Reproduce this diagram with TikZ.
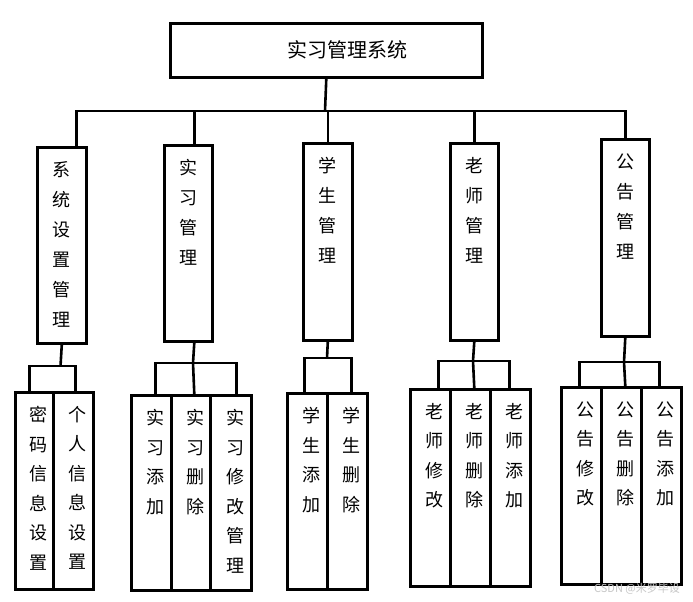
\documentclass[tikz,border=0pt]{standalone}
\usepackage{fontspec}
\newfontfamily\cjk{Noto Sans CJK SC}
\usetikzlibrary{positioning}
\newcommand{\vcol}[4]{\parbox[t][#1][t]{#2}{\centering\leftskip=#3 plus 1fil\vspace*{14pt}#4}}
\tikzset{
  frame/.style={draw,line width=2.6pt,inner sep=0pt,anchor=north west},
  head/.style={frame,minimum width=312,minimum height=54,font=\cjk\fontsize{20}{24}\selectfont},
  module/.style={frame,font=\cjk\fontsize{18}{30}\selectfont},
  leaf/.style={frame,font=\cjk\fontsize{18}{29.5}\selectfont},
  link/.style={line width=2.6pt}
}
\begin{document}
\begin{tikzpicture}[x=1pt,y=-1pt]
\useasboundingbox[fill=white] (0,0) rectangle (693,602);
\node[head] (sys) at (169,22){\hspace*{42pt}实习管理系统};
\coordinate (bus) at (325,111);
\node[module] (m1) at (36,146){\vcol{196pt}{49pt}{0pt}{系\\统\\设\\置\\管\\理}};
\node[module] (m2) at (163,144){\vcol{196pt}{48pt}{0pt}{实\\习\\管\\理}};
\node[module] (m3) at (302,142){\vcol{197pt}{49pt}{0pt}{学\\生\\管\\理}};
\node[module] (m4) at (449,142){\vcol{197pt}{48pt}{0pt}{老\\师\\管\\理}};
\node[module] (m5) at (600,138){\vcol{197pt}{48pt}{0pt}{公\\告\\管\\理}};
\draw[link] (sys.south) -- (bus);
\draw[link] ([xshift=14.5pt]m1.north) |- (bus) -| (m5.north);
\draw[link] ([xshift=6pt]m2.north) -- ([xshift=6pt]m2.north |- bus);
\draw[link] (m3.north) -- (m3.north |- bus);
\draw[link] (m4.north) -- (m4.north |- bus);
\node[leaf] (l11) at (14,391){\vcol{197pt}{38pt}{9pt}{密\\码\\信\\息\\设\\置}};
\node[leaf] (l12) at (52,391){\vcol{197pt}{40pt}{9pt}{个\\人\\信\\息\\设\\置}};
\node[leaf] (l21) at (130,394){\vcol{195pt}{40pt}{9pt}{实\\习\\添\\加}};
\node[leaf] (l22) at (170,394){\vcol{195pt}{39pt}{9pt}{实\\习\\删\\除}};
\node[leaf] (l23) at (209,394){\vcol{195pt}{41pt}{9pt}{实\\习\\修\\改\\管\\理}};
\node[leaf] (l31) at (286,392){\vcol{196pt}{40pt}{9pt}{学\\生\\添\\加}};
\node[leaf] (l32) at (326,392){\vcol{196pt}{40pt}{9pt}{学\\生\\删\\除}};
\node[leaf] (l41) at (409,388){\vcol{197pt}{40pt}{9pt}{老\\师\\修\\改}};
\node[leaf] (l42) at (449,388){\vcol{197pt}{40pt}{9pt}{老\\师\\删\\除}};
\node[leaf] (l43) at (489,388){\vcol{197pt}{40pt}{9pt}{老\\师\\添\\加}};
\node[leaf] (l51) at (560,386){\vcol{197pt}{40pt}{9pt}{公\\告\\修\\改}};
\node[leaf] (l52) at (600,386){\vcol{197pt}{40pt}{9pt}{公\\告\\删\\除}};
\node[leaf] (l53) at (640,386){\vcol{197pt}{40pt}{9pt}{公\\告\\添\\加}};
\coordinate (j1) at (60.5,366);
\coordinate (j2) at (193,363);
\coordinate (j3) at (327,358);
\coordinate (j4) at (473,361);
\coordinate (j5) at (624,362);
\draw[link] (m1.south) -- (j1);
\draw[link] ([xshift=-5pt]l11.north) |- (j1) -| ([xshift=2pt]l12.north);
\draw[link] ([xshift=6pt]m2.south) -- (j2) -- ([xshift=3.5pt]l22.north);
\draw[link] ([xshift=4pt]l21.north) |- (j2) -| ([xshift=5.5pt]l23.north);
\draw[link] (m3.south) -- (j3);
\draw[link] ([xshift=-3pt]l31.north) |- (j3) -| ([xshift=4pt]l32.north);
\draw[link] (m4.south) -- (j4) -- ([xshift=4pt]l42.north);
\draw[link] ([xshift=8pt]l41.north) |- (j4) -| ([xshift=-1pt]l43.north);
\draw[link] (m5.south) -- (j5) -- ([xshift=4pt]l52.north);
\draw[link] ([xshift=-2pt]l51.north) |- (j5) -| ([xshift=-2pt]l53.north);
\node[text=black!22,font=\cjk\fontsize{11}{11}\selectfont] (mark) at (637,589){CSDN @米罗毕设};
\end{tikzpicture}
\end{document}
